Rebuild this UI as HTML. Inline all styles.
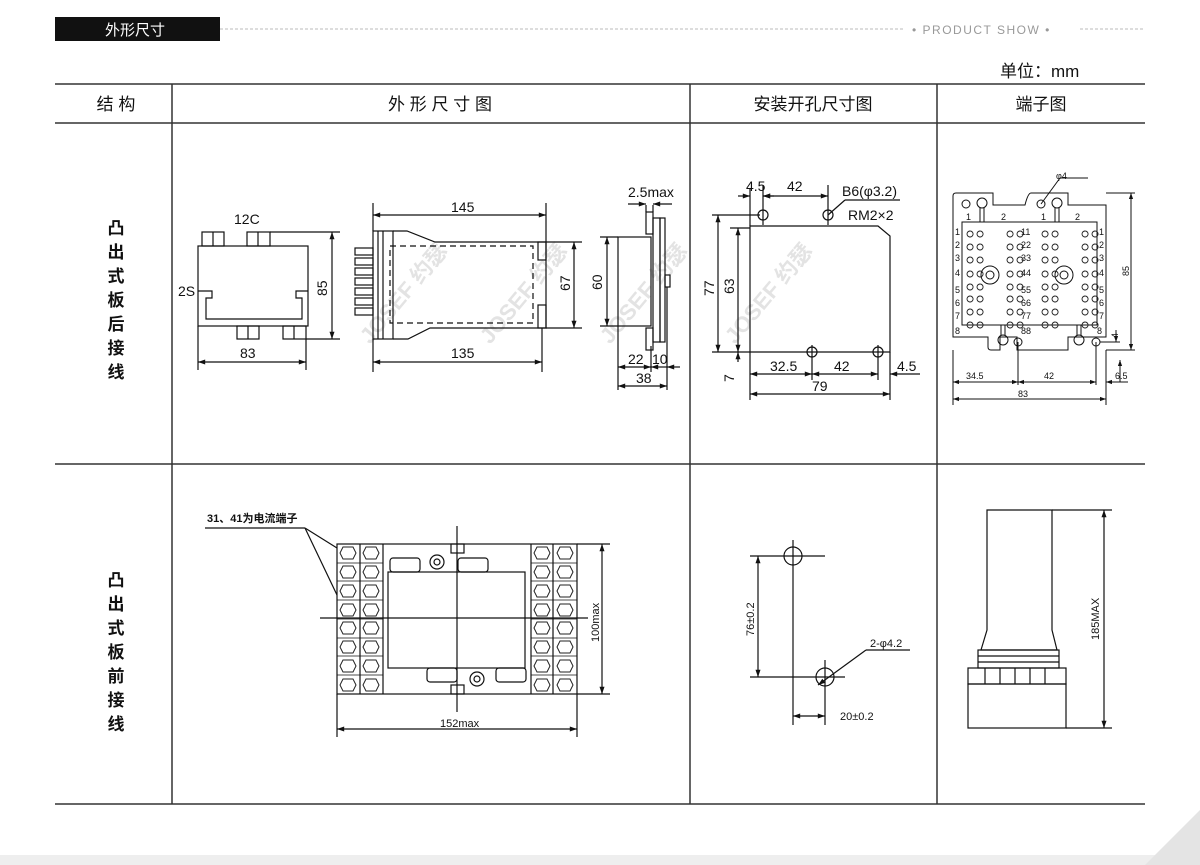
<!DOCTYPE html>
<html><head><meta charset="utf-8"><style>
body{margin:0;background:#fff;}
svg{display:block;font-family:"Liberation Sans","Noto Sans CJK SC",sans-serif;}
</style></head><body>
<svg width="1200" height="865" viewBox="0 0 1200 865">
<defs>
<marker id="a" viewBox="0 0 10 10" refX="10" refY="5" markerWidth="8" markerHeight="6" orient="auto-start-reverse"><path d="M0,1.5L10,5L0,8.5z" fill="#111"/></marker>
<g id="hex"><polygon points="-5,-6 5,-6 8,0 5,6 -5,6 -8,0" fill="none" stroke="#222" stroke-width="1"/></g>
<g id="tp"><circle r="4.5" fill="none" stroke="#222"/></g>
</defs>
<rect width="1200" height="865" fill="#fff"/>
<rect x="0" y="855" width="1200" height="10" fill="#eee"/>
<path d="M1145,865 L1200,810 L1200,865Z" fill="#e4e4e4"/>
<!-- header -->
<rect x="55" y="17" width="165" height="24" fill="#111"/>
<text x="105" y="35" fill="#fff" font-size="15">外形尺寸</text>
<line x1="220" y1="29" x2="905" y2="29" stroke="#bbb" stroke-dasharray="3,2"/>
<line x1="1080" y1="29" x2="1145" y2="29" stroke="#bbb" stroke-dasharray="3,2"/>
<text x="912" y="34" fill="#999" font-size="12" letter-spacing="1.5">• PRODUCT SHOW •</text>
<text x="1000" y="77" font-size="17" fill="#111">单位：mm</text>
<!-- table -->
<g stroke="#333" stroke-width="1.5">
<line x1="55" y1="84" x2="1145" y2="84"/>
<line x1="55" y1="123" x2="1145" y2="123"/>
<line x1="55" y1="464" x2="1145" y2="464"/>
<line x1="55" y1="804" x2="1145" y2="804"/>
<line x1="172" y1="84" x2="172" y2="804"/>
<line x1="690" y1="84" x2="690" y2="804"/>
<line x1="937" y1="84" x2="937" y2="804"/>
</g>
<g font-size="17" fill="#111" text-anchor="middle">
<text x="116" y="110">结 构</text>
<text x="440" y="110">外 形 尺 寸 图</text>
<text x="813" y="110">安装开孔尺寸图</text>
<text x="1041" y="110">端子图</text>
</g>
<g font-size="17" fill="#111" text-anchor="middle" font-weight="bold">
<text x="116" y="234">凸</text><text x="116" y="258">出</text><text x="116" y="282">式</text><text x="116" y="306">板</text><text x="116" y="330">后</text><text x="116" y="354">接</text><text x="116" y="378">线</text>
<text x="116" y="586">凸</text><text x="116" y="610">出</text><text x="116" y="634">式</text><text x="116" y="658">板</text><text x="116" y="682">前</text><text x="116" y="706">接</text><text x="116" y="730">线</text>
</g>
<!-- watermark -->
<g fill="#ddd" font-size="22" font-weight="bold" opacity="0.8">
<text transform="translate(370,345) rotate(-50)">JOSEF 约瑟</text>
<text transform="translate(490,345) rotate(-50)">JOSEF 约瑟</text>
<text transform="translate(610,345) rotate(-50)">JOSEF 约瑟</text>
<text transform="translate(735,345) rotate(-50)">JOSEF 约瑟</text>
</g>
<g stroke="#111" stroke-width="1.2" fill="none" font-size="14">
<!-- front view -->
<rect x="198" y="246" width="110" height="80"/>
<rect x="202" y="232" width="22" height="14"/><line x1="213" y1="232" x2="213" y2="246"/>
<rect x="247" y="232" width="23" height="14"/><line x1="258" y1="232" x2="258" y2="246"/>
<rect x="237" y="326" width="22" height="13"/><line x1="248" y1="326" x2="248" y2="339"/>
<rect x="283" y="326" width="23" height="13"/><line x1="294" y1="326" x2="294" y2="339"/>
<path d="M198,291 H212 V298 H206 V319 H302 V298 H296 V291 H308"/>
<line x1="270" y1="232" x2="340" y2="232"/><line x1="306" y1="339" x2="340" y2="339"/>
<line x1="332" y1="232" x2="332" y2="339" marker-start="url(#a)" marker-end="url(#a)"/>
<line x1="198" y1="326" x2="198" y2="370"/><line x1="306" y1="339" x2="306" y2="370"/>
<line x1="198" y1="362" x2="306" y2="362" marker-start="url(#a)" marker-end="url(#a)"/>
<!-- side view -->
<rect x="373" y="231" width="20" height="108"/>
<line x1="378" y1="231" x2="378" y2="339"/><line x1="383" y1="231" x2="383" y2="339"/>
<path d="M393,231 H407 L435,242 H546 V328 H430 L408,339 H393"/>
<rect x="390" y="246" width="143" height="77" stroke-dasharray="6,4"/>
<rect x="538" y="242" width="8" height="18"/><rect x="538" y="305" width="8" height="23"/>
<g><rect x="355" y="248" width="18" height="7"/><rect x="355" y="258" width="18" height="7"/><rect x="355" y="268" width="18" height="7"/><rect x="355" y="278" width="18" height="7"/><rect x="355" y="288" width="18" height="7"/><rect x="355" y="298" width="18" height="7"/><rect x="355" y="308" width="18" height="7"/></g>
<line x1="373" y1="203" x2="373" y2="231"/><line x1="546" y1="203" x2="546" y2="242"/>
<line x1="373" y1="215" x2="546" y2="215" marker-start="url(#a)" marker-end="url(#a)"/>
<line x1="373" y1="339" x2="373" y2="372"/><line x1="542" y1="328" x2="542" y2="372"/>
<line x1="373" y1="362" x2="542" y2="362" marker-start="url(#a)" marker-end="url(#a)"/>
<line x1="546" y1="242" x2="582" y2="242"/><line x1="546" y1="328" x2="582" y2="328"/>
<line x1="574" y1="242" x2="574" y2="328" marker-start="url(#a)" marker-end="url(#a)"/>
<!-- panel view -->
<rect x="618" y="237" width="33" height="89"/>
<rect x="646" y="212" width="7" height="22"/><rect x="646" y="328" width="7" height="22"/>
<rect x="653" y="218" width="7" height="124"/><rect x="660" y="218" width="5" height="124"/>
<rect x="665" y="275" width="5" height="12"/>
<line x1="600" y1="237" x2="618" y2="237"/><line x1="600" y1="326" x2="618" y2="326"/>
<line x1="607" y1="237" x2="607" y2="326" marker-start="url(#a)" marker-end="url(#a)"/>
<line x1="646" y1="205" x2="646" y2="212"/><line x1="653" y1="205" x2="653" y2="212"/>
<line x1="628" y1="204" x2="646" y2="204" marker-end="url(#a)"/><line x1="672" y1="204" x2="653" y2="204" marker-end="url(#a)"/>
<line x1="618" y1="326" x2="618" y2="390"/><line x1="651" y1="346" x2="651" y2="372"/><line x1="667" y1="287" x2="667" y2="390"/>
<line x1="618" y1="367" x2="651" y2="367" marker-start="url(#a)" marker-end="url(#a)"/>
<line x1="651" y1="367" x2="667" y2="367" marker-start="url(#a)"/>
<line x1="680" y1="367" x2="667" y2="367" marker-end="url(#a)"/>
<line x1="618" y1="386" x2="667" y2="386" marker-start="url(#a)" marker-end="url(#a)"/>
</g>
<g font-size="14" fill="#111">
<text x="234" y="224">12C</text><text x="178" y="296">2S</text>
<text transform="translate(327,296) rotate(-90)">85</text>
<text x="240" y="358">83</text><text x="451" y="212">145</text><text x="451" y="358">135</text>
<text transform="translate(570,291) rotate(-90)">67</text>
<text transform="translate(602,290) rotate(-90)">60</text>
<text x="628" y="197">2.5max</text><text x="628" y="364">22</text><text x="652" y="364">10</text><text x="636" y="383">38</text>
</g>
<!-- mounting -->
<g stroke="#111" stroke-width="1.2" fill="none">
<path d="M750,226 H878 L890,214 V352 H750 Z" stroke="none"/>
<path d="M750,226 H878 L890,236 V352 H750 Z"/>
<circle cx="763" cy="215" r="5"/><circle cx="828" cy="215" r="5"/>
<circle cx="812" cy="352" r="5"/><circle cx="878" cy="352" r="5"/>
<line x1="763" y1="185" x2="763" y2="225"/><line x1="828" y1="185" x2="828" y2="225"/><line x1="750" y1="188" x2="750" y2="226"/>
<line x1="738" y1="196" x2="750" y2="196" marker-end="url(#a)"/><line x1="774" y1="196" x2="763" y2="196" marker-end="url(#a)"/>
<line x1="763" y1="196" x2="828" y2="196" marker-start="url(#a)" marker-end="url(#a)"/>
<line x1="828" y1="215" x2="845" y2="200"/><line x1="845" y1="200" x2="900" y2="200"/>
<line x1="712" y1="215" x2="760" y2="215"/><line x1="730" y1="228" x2="750" y2="228"/>
<line x1="712" y1="352" x2="750" y2="352"/>
<line x1="718" y1="215" x2="718" y2="352" marker-start="url(#a)" marker-end="url(#a)"/>
<line x1="738" y1="228" x2="738" y2="352" marker-start="url(#a)" marker-end="url(#a)"/>
<line x1="738" y1="362" x2="738" y2="352" marker-end="url(#a)"/>
<line x1="750" y1="352" x2="750" y2="400"/><line x1="812" y1="345" x2="812" y2="380"/><line x1="878" y1="345" x2="878" y2="380"/><line x1="890" y1="352" x2="890" y2="400"/>
<line x1="750" y1="374" x2="812" y2="374" marker-start="url(#a)" marker-end="url(#a)"/>
<line x1="812" y1="374" x2="878" y2="374" marker-start="url(#a)" marker-end="url(#a)"/>
<line x1="920" y1="374" x2="890" y2="374" marker-end="url(#a)"/>
<line x1="750" y1="394" x2="890" y2="394" marker-start="url(#a)" marker-end="url(#a)"/>
</g>
<g font-size="14" fill="#111">
<text x="746" y="191">4.5</text><text x="787" y="191">42</text><text x="842" y="196">B6(φ3.2)</text><text x="848" y="220">RM2×2</text>
<text transform="translate(714,296) rotate(-90)">77</text><text transform="translate(734,294) rotate(-90)">63</text>
<text transform="translate(734,382) rotate(-90)">7</text>
<text x="770" y="371">32.5</text><text x="834" y="371">42</text><text x="897" y="371">4.5</text><text x="812" y="391">79</text>
</g>
<!-- terminal -->
<g stroke="#111" stroke-width="1" fill="none">
<path d="M953,196 Q953,193 956,193 H993 V205 H1025 Q1028,193 1031,193 H1068 V205 H1106 V337 H1068 V350 H1017 V337 H1000 V350 H991 Q988,350 988,347 V337 H953 Z"/>
<rect x="962" y="222" width="135" height="103"/>
<line x1="1106" y1="193" x2="1135" y2="193"/><line x1="1106" y1="350" x2="1135" y2="350"/>
<line x1="1131" y1="193" x2="1131" y2="350" marker-start="url(#a)" marker-end="url(#a)"/>
<circle cx="982" cy="203" r="5"/><line x1="980" y1="208" x2="980" y2="222"/><line x1="984" y1="208" x2="984" y2="222"/>
<circle cx="1057" cy="203" r="5"/><line x1="1055" y1="208" x2="1055" y2="222"/><line x1="1059" y1="208" x2="1059" y2="222"/>
<circle cx="1003" cy="340" r="5"/><line x1="1001" y1="325" x2="1001" y2="335"/><line x1="1005" y1="325" x2="1005" y2="335"/>
<circle cx="1079" cy="340" r="5"/><line x1="1077" y1="325" x2="1077" y2="335"/><line x1="1081" y1="325" x2="1081" y2="335"/>
<circle cx="1018" cy="342" r="4"/><circle cx="1096" cy="342" r="4"/>
<circle cx="966" cy="204" r="4"/><circle cx="1041" cy="204" r="4"/>
<line x1="1041" y1="204" x2="1060" y2="178"/><line x1="1060" y1="178" x2="1088" y2="178"/>
<circle cx="990" cy="275" r="9"/><circle cx="990" cy="275" r="4"/>
<circle cx="1064" cy="275" r="9"/><circle cx="1064" cy="275" r="4"/>
<line x1="1100" y1="342" x2="1120" y2="342"/><line x1="1116" y1="330" x2="1116" y2="342" marker-end="url(#a)"/>
<line x1="953" y1="350" x2="953" y2="405"/><line x1="1018" y1="342" x2="1018" y2="385"/><line x1="1096" y1="342" x2="1096" y2="385"/><line x1="1106" y1="350" x2="1106" y2="405"/>
<line x1="953" y1="382" x2="1018" y2="382" marker-start="url(#a)" marker-end="url(#a)"/>
<line x1="1018" y1="382" x2="1096" y2="382" marker-start="url(#a)" marker-end="url(#a)"/>
<line x1="1128" y1="382" x2="1106" y2="382" marker-end="url(#a)"/>
<line x1="953" y1="399" x2="1106" y2="399" marker-start="url(#a)" marker-end="url(#a)"/>
<line x1="1120" y1="382" x2="1120" y2="360" marker-end="url(#a)"/>
</g>
<g font-size="9" fill="#111">
<text x="1056" y="179">φ4</text>
<text x="966" y="220">1</text><text x="1001" y="220">2</text><text x="1041" y="220">1</text><text x="1075" y="220">2</text>
<text x="955" y="235">1</text><text x="955" y="248">2</text><text x="955" y="261">3</text><text x="955" y="276">4</text><text x="955" y="293">5</text><text x="955" y="306">6</text><text x="955" y="319">7</text><text x="955" y="334">8</text>
<text x="1099" y="235">1</text><text x="1099" y="248">2</text><text x="1099" y="261">3</text><text x="1099" y="276">4</text><text x="1099" y="293">5</text><text x="1099" y="306">6</text><text x="1099" y="319">7</text><text x="1097" y="334">8</text>
<text x="1021" y="235">11</text><text x="1021" y="248">22</text><text x="1021" y="261">33</text><text x="1021" y="276">44</text><text x="1021" y="293">55</text><text x="1021" y="306">66</text><text x="1021" y="319">77</text><text x="1021" y="334">88</text>
<text x="966" y="379">34.5</text><text x="1044" y="379">42</text><text x="1115" y="379">6.5</text><text x="1018" y="397">83</text>
<text transform="translate(1129,276) rotate(-90)">85</text><text transform="translate(1118,338) rotate(-90)">4</text>
</g>
<g fill="none" stroke="#222" stroke-width="0.9">
<path id="row" d="M970,231 a3,3 0 1,0 0.1,0 M980,231 a3,3 0 1,0 0.1,0 M1010,231 a3,3 0 1,0 0.1,0 M1020,231 a3,3 0 1,0 0.1,0 M1045,231 a3,3 0 1,0 0.1,0 M1055,231 a3,3 0 1,0 0.1,0 M1085,231 a3,3 0 1,0 0.1,0 M1095,231 a3,3 0 1,0 0.1,0"/>
<use href="#row" y="13"/><use href="#row" y="26"/><use href="#row" y="40"/><use href="#row" y="53"/><use href="#row" y="65"/><use href="#row" y="78"/><use href="#row" y="91"/>
</g>
<!-- row 2 front -->
<g stroke="#111" stroke-width="1.2" fill="none">
<rect x="337" y="544" width="240" height="150"/>
<line x1="360" y1="544" x2="360" y2="694"/><line x1="383" y1="544" x2="383" y2="694"/>
<line x1="531" y1="544" x2="531" y2="694"/><line x1="553" y1="544" x2="553" y2="694"/>
<rect x="388" y="572" width="137" height="96"/>
<line x1="457" y1="526" x2="457" y2="712"/><line x1="320" y1="618" x2="588" y2="618"/>
<rect x="451" y="544" width="13" height="9"/><rect x="451" y="685" width="13" height="9"/>
<rect x="390" y="558" width="30" height="14" rx="3"/><rect x="458" y="558" width="30" height="14" rx="3"/>
<rect x="427" y="668" width="30" height="14" rx="3"/><rect x="496" y="668" width="30" height="14" rx="3"/>
<circle cx="437" cy="562" r="7"/><circle cx="437" cy="562" r="3"/>
<circle cx="477" cy="679" r="7"/><circle cx="477" cy="679" r="3"/>
<line x1="577" y1="544" x2="610" y2="544"/><line x1="577" y1="694" x2="610" y2="694"/>
<line x1="602" y1="544" x2="602" y2="694" marker-start="url(#a)" marker-end="url(#a)"/>
<line x1="337" y1="694" x2="337" y2="737"/><line x1="577" y1="694" x2="577" y2="737"/>
<line x1="337" y1="729" x2="577" y2="729" marker-start="url(#a)" marker-end="url(#a)"/>
<line x1="205" y1="528" x2="305" y2="528"/><line x1="305" y1="528" x2="337" y2="548"/><line x1="305" y1="528" x2="337" y2="595"/>
</g>
<g>
<g id="col"><use href="#hex" x="348" y="553"/><use href="#hex" x="348" y="572"/><use href="#hex" x="348" y="591"/><use href="#hex" x="348" y="610"/><use href="#hex" x="348" y="628"/><use href="#hex" x="348" y="647"/><use href="#hex" x="348" y="666"/><use href="#hex" x="348" y="685"/></g>
<use href="#col" x="23"/><use href="#col" x="194"/><use href="#col" x="217"/>
</g>
<g stroke="#111" stroke-width="0.8">
<line x1="337" y1="563" x2="383" y2="563"/><line x1="337" y1="581" x2="383" y2="581"/><line x1="337" y1="600" x2="383" y2="600"/><line x1="337" y1="619" x2="383" y2="619"/><line x1="337" y1="638" x2="383" y2="638"/><line x1="337" y1="656" x2="383" y2="656"/><line x1="337" y1="675" x2="383" y2="675"/>
<line x1="531" y1="563" x2="577" y2="563"/><line x1="531" y1="581" x2="577" y2="581"/><line x1="531" y1="600" x2="577" y2="600"/><line x1="531" y1="619" x2="577" y2="619"/><line x1="531" y1="638" x2="577" y2="638"/><line x1="531" y1="656" x2="577" y2="656"/><line x1="531" y1="675" x2="577" y2="675"/>
</g>
<g font-size="11" fill="#111">
<text x="207" y="522" font-weight="bold">31、41为电流端子</text>
<text x="440" y="727">152max</text>
<text transform="translate(599,642) rotate(-90)">100max</text>
</g>
<!-- row 2 mount -->
<g stroke="#111" stroke-width="1.2" fill="none">
<circle cx="793" cy="556" r="9"/><circle cx="825" cy="677" r="9"/>
<line x1="775" y1="556" x2="825" y2="556"/><line x1="793" y1="540" x2="793" y2="725"/>
<line x1="750" y1="677" x2="845" y2="677"/><line x1="825" y1="660" x2="825" y2="725"/>
<line x1="758" y1="556" x2="758" y2="677" marker-start="url(#a)" marker-end="url(#a)"/>
<line x1="750" y1="556" x2="775" y2="556"/>
<line x1="793" y1="716" x2="825" y2="716" marker-start="url(#a)" marker-end="url(#a)"/>
<line x1="818" y1="685" x2="866" y2="650" marker-start="url(#a)"/><line x1="866" y1="650" x2="910" y2="650"/>
</g>
<g font-size="11" fill="#111">
<text transform="translate(754,636) rotate(-90)">76±0.2</text>
<text x="840" y="720">20±0.2</text><text x="870" y="647">2-φ4.2</text>
</g>
<!-- row 2 side -->
<g stroke="#111" stroke-width="1.2" fill="none">
<path d="M987,510 H1052 V630 L1057,650 H981 L987,630 Z"/>
<rect x="978" y="650" width="81" height="18"/>
<line x1="978" y1="656" x2="1059" y2="656"/><line x1="978" y1="662" x2="1059" y2="662"/>
<rect x="968" y="668" width="98" height="16"/>
<rect x="968" y="684" width="98" height="44"/>
<line x1="985" y1="668" x2="985" y2="684"/><line x1="1000" y1="668" x2="1000" y2="684"/><line x1="1015" y1="668" x2="1015" y2="684"/><line x1="1030" y1="668" x2="1030" y2="684"/><line x1="1045" y1="668" x2="1045" y2="684"/>
<line x1="1052" y1="510" x2="1112" y2="510"/><line x1="1066" y1="728" x2="1112" y2="728"/>
<line x1="1104" y1="510" x2="1104" y2="728" marker-start="url(#a)" marker-end="url(#a)"/>
</g>
<text transform="translate(1099,640) rotate(-90)" font-size="11" fill="#111">185MAX</text>
</svg>
</body></html>
